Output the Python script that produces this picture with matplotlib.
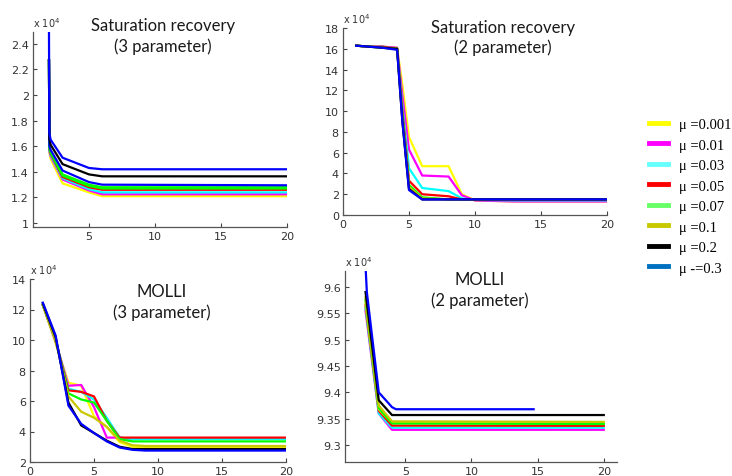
import numpy as np
import matplotlib
matplotlib.use("Agg")
import matplotlib.pyplot as plt
from matplotlib.lines import Line2D

# colours of the mu series
C_YEL = "#ffff00"
C_MAG = "#ff00ff"
C_CYA = "#00ffff"
C_RED = "#ff0000"
C_GRN = "#00ff00"
C_OLV = "#c8c800"
C_BLK = "#000000"
C_BLU = "#0000ff"

LEG_LABELS = ["\u03bc =0.001", "\u03bc =0.01", "\u03bc =0.03", "\u03bc =0.05",
              "\u03bc =0.07", "\u03bc =0.1", "\u03bc =0.2", "\u03bc -=0.3"]
LEG_COLORS = ["#ffff00", "#ff00ff", "#66ffff", "#ff0000",
              "#66ff66", "#c8c800", "#000000", "#0070c0"]

# --- Saturation recovery (3 parameter), values x 1e4
SR3_X = [1.97, 2.0, 2.1, 3, 5, 6, 20]
SR3_BLU_TOP = [2.5, 1.70, 1.65, 1.51, 1.43, 1.42, 1.42]
SR3_BLK = [2.27, 1.66, 1.61, 1.46, 1.38, 1.365, 1.365]
SR3_BLU = [2.27, 1.60, 1.57, 1.41, 1.32, 1.30, 1.295]
SR3_OLV = [2.27, 1.59, 1.555, 1.38, 1.30, 1.28, 1.28]
SR3_GRN = [2.27, 1.585, 1.55, 1.37, 1.29, 1.27, 1.27]
SR3_RED = [2.27, 1.58, 1.54, 1.36, 1.28, 1.26, 1.26]
SR3_CYA = [2.27, 1.57, 1.53, 1.35, 1.265, 1.24, 1.24]
SR3_MAG = [2.27, 1.56, 1.52, 1.34, 1.255, 1.225, 1.225]
SR3_YEL = [2.27, 1.55, 1.50, 1.31, 1.24, 1.21, 1.21]

# --- Saturation recovery (2 parameter)
SR2_X = [1, 2, 3, 4.1, 4.5, 5, 6, 8, 9, 10, 13, 20]
SR2_YEL = [16.3, 16.2, 16.2, 16.1, 12.5, 7.5, 4.7, 4.7, 2.0, 1.4, 1.3, 1.3]
SR2_MAG = [16.3, 16.2, 16.2, 16.1, 11.5, 6.3, 3.8, 3.7, 1.9, 1.4, 1.3, 1.3]
SR2_CYA = [16.3, 16.2, 16.2, 16.0, 10.5, 4.5, 2.6, 2.3, 1.6, 1.45, 1.4, 1.4]
SR2_RED = [16.3, 16.2, 16.2, 16.0, 10.0, 3.3, 2.0, 1.8, 1.5, 1.45, 1.45, 1.45]
SR2_GRN = [16.3, 16.2, 16.1, 16.0, 9.5, 2.9, 1.7, 1.5, 1.5, 1.5, 1.5, 1.5]
SR2_OLV = [16.3, 16.2, 16.1, 16.0, 9.2, 2.7, 1.6, 1.5, 1.5, 1.5, 1.5, 1.5]
SR2_BLK = [16.3, 16.2, 16.1, 16.0, 9.0, 2.5, 1.5, 1.5, 1.5, 1.5, 1.5, 1.5]
SR2_BLU = [16.3, 16.2, 16.1, 15.9, 9.0, 2.4, 1.5, 1.5, 1.5, 1.5, 1.5, 1.5]

# --- MOLLI (3 parameter)
M3_X = [1, 2, 3, 4, 5, 6, 7, 8, 9, 20]
M3_YEL = [12.3, 9.8, 7.2, 7.0, 5.0, 4.3, 3.3, 3.0, 2.95, 2.95]
M3_MAG = [12.3, 9.9, 7.0, 7.05, 5.6, 3.6, 3.6, 3.5, 3.55, 3.55]
M3_CYA = [12.3, 10.0, 6.8, 6.6, 6.1, 4.9, 3.6, 3.5, 3.5, 3.5]
M3_RED = [12.3, 10.0, 6.7, 6.6, 6.3, 4.7, 3.6, 3.6, 3.6, 3.6]
M3_GRN = [12.3, 10.0, 6.5, 6.1, 5.9, 4.7, 3.5, 3.35, 3.35, 3.35]
M3_OLV = [12.3, 10.0, 6.3, 5.3, 4.9, 4.3, 3.4, 3.1, 3.05, 3.05]
M3_BLK = [12.4, 10.2, 5.9, 4.4, 3.9, 3.4, 3.0, 2.85, 2.85, 2.85]
M3_BLU = [12.45, 10.3, 5.7, 4.5, 3.9, 3.35, 2.95, 2.8, 2.75, 2.75]

# --- MOLLI (2 parameter)
M2_X = [2, 3, 4, 20]
M2_MAG = [9.555, 9.36, 9.329, 9.329]
M2_CYA = [9.56, 9.36, 9.333, 9.333]
M2_RED = [9.565, 9.365, 9.337, 9.3365]
M2_YEL = [9.57, 9.368, 9.342, 9.341]
M2_GRN = [9.575, 9.37, 9.341, 9.340]
M2_OLV = [9.58, 9.375, 9.345, 9.344]
M2_BLK = [9.59, 9.385, 9.357, 9.357]
M2_BLU_X = [2, 2.1, 3, 4, 4.3, 14.7]
M2_BLU = [9.64, 9.59, 9.40, 9.372, 9.368, 9.368]

W, H = 732, 477
fig = plt.figure(figsize=(W / 100, H / 100), dpi=100)


def make_ax(left, top, right, bottom):
    ax = fig.add_axes([left / W, 1 - bottom / H, (right - left) / W, (bottom - top) / H])
    for s in ["top", "right"]:
        ax.spines[s].set_visible(False)
    for s in ["left", "bottom"]:
        ax.spines[s].set_color("#555555")
        ax.spines[s].set_linewidth(0.9)
    ax.tick_params(direction="in", length=3, labelsize=8, colors="#444444",
                   labelcolor="#333333", pad=3)
    ax.text(0, 1.015, r"x 10$^4$", transform=ax.transAxes, fontsize=7,
            color="#333333", va="bottom", ha="left")
    return ax


def title(x, y1, y2, l1, l2):
    for y, s in [(y1, l1), (y2, l2)]:
        fig.text(x / W, 1 - y / H, s, ha="center", va="center", fontsize=12,
                 family="Lato", color="#1a1a1a")


LW = 1.6

# top left
ax1 = make_ax(33, 33, 287, 228)
for ys, c in [(SR3_YEL, C_YEL), (SR3_MAG, C_MAG), (SR3_CYA, C_CYA), (SR3_RED, C_RED),
              (SR3_GRN, C_GRN), (SR3_OLV, C_GRN), (SR3_BLU, C_BLU), (SR3_BLK, C_BLK),
              (SR3_BLU_TOP, C_BLU)]:
    ax1.plot(SR3_X, ys, color=c, lw=LW)
ax1.set_xlim(0.76, 20)
ax1.set_ylim(0.97, 2.49)
ax1.set_xticks([5, 10, 15, 20])
ax1.set_yticks([1, 1.2, 1.4, 1.6, 1.8, 2, 2.2, 2.4])
ax1.set_yticklabels(["1", "1.2", "1.4", "1.6", "1.8", "2", "2.2", "2.4"])
title(163, 26, 47, "Saturation recovery", "(3 parameter)")

# top right
ax2 = make_ax(343, 29, 607, 216)
for ys, c in [(SR2_YEL, C_YEL), (SR2_MAG, C_MAG), (SR2_CYA, C_CYA), (SR2_RED, C_RED),
              (SR2_GRN, C_GRN), (SR2_OLV, C_OLV), (SR2_BLK, C_BLK), (SR2_BLU, C_BLU)]:
    ax2.plot(SR2_X, ys, color=c, lw=LW)
ax2.set_xlim(0, 20)
ax2.set_ylim(0, 18)
ax2.set_xticks([0, 5, 10, 15, 20])
ax2.set_yticks(np.arange(0, 19, 2))
title(503, 28, 48, "Saturation recovery", "(2 parameter)")

# bottom left
ax3 = make_ax(30, 280, 286, 463)
for ys, c in [(M3_YEL, C_YEL), (M3_MAG, C_MAG), (M3_CYA, C_CYA), (M3_RED, C_RED),
              (M3_GRN, C_GRN), (M3_OLV, C_OLV), (M3_BLK, C_BLK), (M3_BLU, C_BLU)]:
    ax3.plot(M3_X, ys, color=c, lw=LW)
ax3.set_xlim(0, 20)
ax3.set_ylim(2, 14)
ax3.set_xticks([0, 5, 10, 15, 20])
ax3.set_yticks(np.arange(2, 15, 2))
title(162, 292, 313, "MOLLI", "(3 parameter)")

# bottom right
ax4 = make_ax(345, 272, 617, 463)
for ys, c in [(M2_MAG, C_MAG), (M2_CYA, C_CYA), (M2_RED, C_RED), (M2_YEL, C_YEL),
              (M2_GRN, C_GRN), (M2_OLV, C_OLV), (M2_BLK, C_BLK)]:
    ax4.plot(M2_X, ys, color=c, lw=LW)
ax4.plot(M2_BLU_X, M2_BLU, color=C_BLU, lw=LW)
ax4.set_xlim(0.45, 21)
ax4.set_ylim(9.268, 9.63)
ax4.set_xticks([5, 10, 15, 20])
yt4 = [9.3, 9.35, 9.4, 9.45, 9.5, 9.55, 9.6]
ax4.set_yticks(yt4)
ax4.set_yticklabels(["%g" % v for v in yt4])
title(480, 280, 301, "MOLLI", "(2 parameter)")

# legend
handles = [Line2D([], [], color=c, lw=3.5) for c in LEG_COLORS]
fig.legend(handles, LEG_LABELS, loc="upper left", bbox_to_anchor=(643 / W, 1 - 113 / H),
           frameon=False, handlelength=1.3, handletextpad=0.8,
           labelspacing=0.5, borderaxespad=0,
           prop={"family": ["Liberation Serif"], "size": 10.5})

fig.savefig("out.png", dpi=100)
